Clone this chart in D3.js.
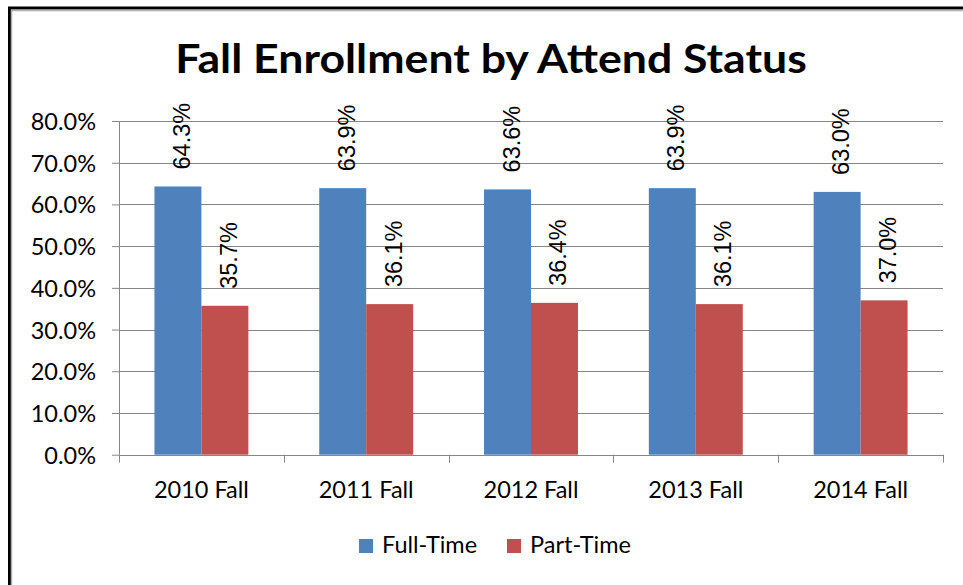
<!DOCTYPE html>
<html>
<head>
<meta charset="utf-8">
<script src="https://cdn.jsdelivr.net/npm/d3@7"></script>
<style>
html,body{margin:0;padding:0;background:#fff;}
svg{display:block;}
</style>
</head>
<body>
<script>
const categories = ["2010 Fall", "2011 Fall", "2012 Fall", "2013 Fall", "2014 Fall"];
const seriesNames = ["Full-Time", "Part-Time"];
const fullTime = [64.3, 63.9, 63.6, 63.9, 63.0];
const partTime = [35.7, 36.1, 36.4, 36.1, 37.0];
const yTicks = [0, 10, 20, 30, 40, 50, 60, 70, 80];
const colors = ["#4F81BD", "#C0504D"];
const titleText = "Fall Enrollment by Attend Status";

const W = 963, H = 585;
const svg = d3.select("body").append("svg").attr("width", W).attr("height", H);
svg.append("rect").attr("width", W).attr("height", H).attr("fill", "#fff");

// outer frame (cropped: only top and left visible)
svg.append("path").attr("d", `M9.5,${H} L9.5,8 L${W},8`).attr("fill", "none")
  .attr("stroke", "#000").attr("stroke-width", 3);
svg.append("path").attr("d", `M11.5,${H} L11.5,10.5 L${W},10.5`).attr("fill", "none")
  .attr("stroke", "#b0b0b0").attr("stroke-width", 1.5);

const x0 = 119, x1 = 943, yTop = 121, yBot = 454.7;
const y = d3.scaleLinear().domain([0, 80]).range([yBot, yTop]);
const xb = d3.scaleBand().domain(categories).range([x0, x1]).paddingInner(0.43).paddingOuter(0.215);
const xs = d3.scaleBand().domain(seriesNames).range([0, xb.bandwidth()]);

// title
svg.append("text").attr("transform", "translate(491,73) scale(1.13,1)").attr("text-anchor", "middle")
  .attr("font-family", "Lato").attr("font-weight", "bold").attr("font-size", 39.5)
  .attr("fill", "#000").text(titleText);

// gridlines + y axis
const yAxis = d3.axisLeft(y).tickValues(yTicks).tickSize(7).tickPadding(16)
  .tickFormat(d => d3.format(".1f")(d) + "%");
const gy = svg.append("g").attr("transform", `translate(${x0},0)`).call(yAxis);
gy.select(".domain").attr("stroke", "#868686").attr("d", `M0.5,${yTop}V${yBot}`);
gy.selectAll(".tick line").attr("stroke", "#868686");
gy.selectAll(".tick text").attr("font-family", "Lato").attr("font-size", 23.5).attr("fill", "#000").attr("dy", "0.36em");

svg.append("g").selectAll("line").data(yTicks.filter(d => d > 0)).join("line")
  .attr("x1", x0).attr("x2", x1)
  .attr("y1", d => Math.round(y(d)) + 0.5).attr("y2", d => Math.round(y(d)) + 0.5)
  .attr("stroke", "#868686").attr("stroke-width", 1);

// bars
const data = categories.map((c, i) => ({cat: c, vals: [fullTime[i], partTime[i]]}));
const groups = svg.append("g").selectAll("g").data(data).join("g")
  .attr("transform", d => `translate(${xb(d.cat)},0)`);
groups.selectAll("rect").data(d => d.vals.map((v, j) => ({v, s: seriesNames[j], j}))).join("rect")
  .attr("x", d => xs(d.s)).attr("width", xs.bandwidth())
  .attr("y", d => y(d.v)).attr("height", d => yBot - y(d.v))
  .attr("fill", d => colors[d.j]);

// data labels
groups.selectAll("text.lbl").data(d => d.vals.map((v, j) => ({v, s: seriesNames[j], j}))).join("text")
  .attr("class", "lbl")
  .attr("transform", d => `translate(${xs(d.s) + xs.bandwidth() / 2 + 12},${y(d.v) - 17}) rotate(-90)`)
  .attr("font-family", "Liberation Sans").attr("font-size", 23.5).attr("fill", "#000")
  .text(d => d3.format(".1f")(d.v) + "%");

// x axis
const gx = svg.append("g");
gx.append("line").attr("x1", x0).attr("x2", x1).attr("y1", Math.round(yBot) + 0.5).attr("y2", Math.round(yBot) + 0.5)
  .attr("stroke", "#868686");
const step = xb.step();
gx.selectAll("line.t").data(d3.range(categories.length + 1)).join("line").attr("class", "t")
  .attr("x1", i => Math.round(x0 + i * step) + 0.5).attr("x2", i => Math.round(x0 + i * step) + 0.5)
  .attr("y1", yBot).attr("y2", yBot + 8).attr("stroke", "#868686");
gx.selectAll("text").data(categories).join("text")
  .attr("x", d => xb(d) + xb.bandwidth() / 2).attr("y", 498).attr("text-anchor", "middle")
  .attr("font-family", "Lato").attr("font-size", 23.5).attr("fill", "#000").text(d => d);

// legend
const legX = [359, 507];
const lg = svg.append("g").selectAll("g").data(seriesNames).join("g")
  .attr("transform", (d, i) => `translate(${legX[i]},539)`);
lg.append("rect").attr("width", 14).attr("height", 14).attr("fill", (d, i) => colors[i]);
lg.append("text").attr("x", 23).attr("y", 14).attr("font-family", "Lato").attr("font-size", 23.5)
  .attr("fill", "#000").text(d => d);
</script>
</body>
</html>
